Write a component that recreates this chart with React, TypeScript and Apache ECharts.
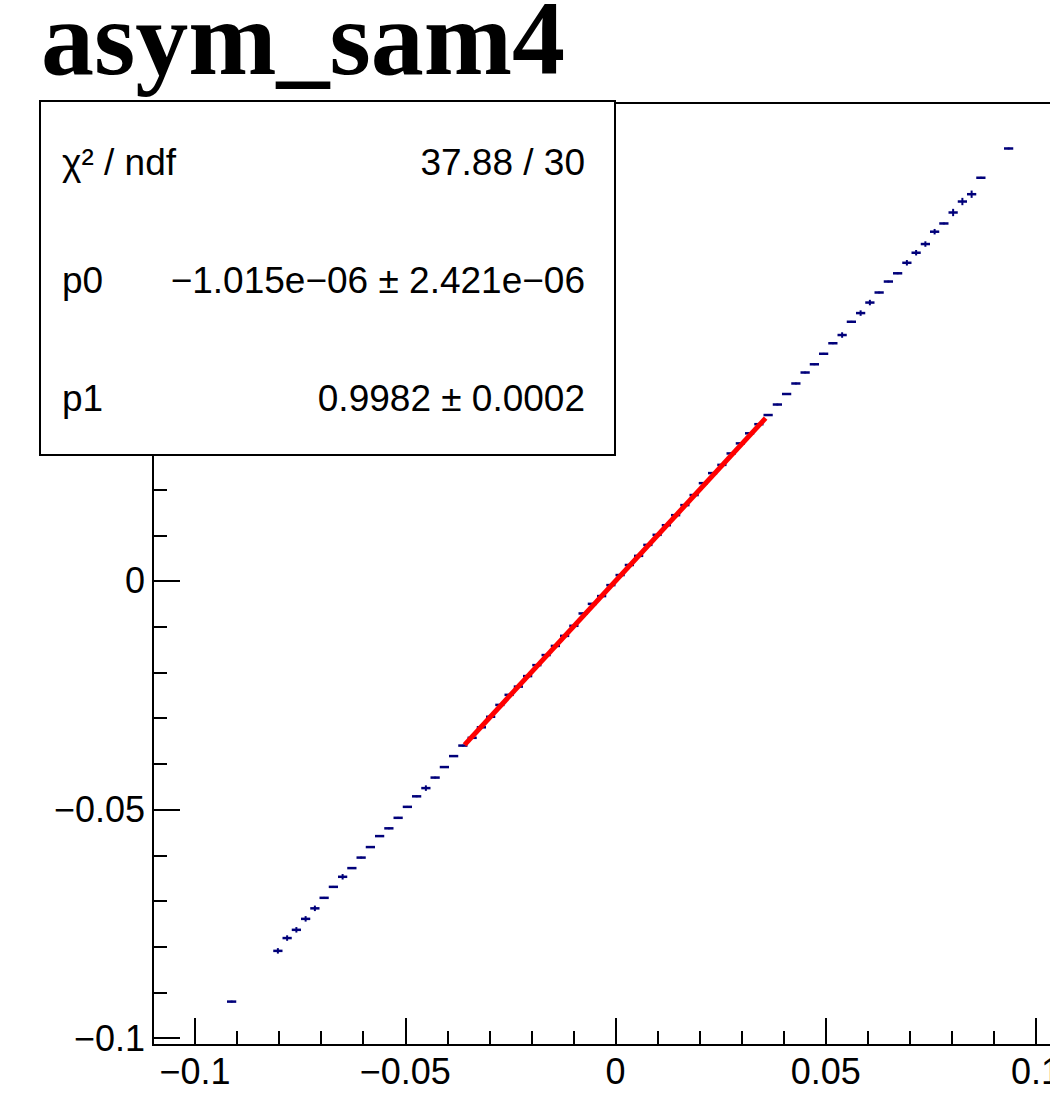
import React, { useEffect, useRef } from "react";
import * as echarts from "echarts";

// ---- data (TProfile bins) ----
const binCenters = [
  -0.0913,
  -0.0803, -0.0781, -0.0759, -0.0737, -0.0715, -0.0693, -0.0671, -0.0649, -0.0627, -0.0605,
  -0.0583, -0.0561, -0.0539, -0.0517, -0.0495, -0.0473, -0.0451, -0.0429, -0.0407, -0.0385,
  -0.0363, -0.0341, -0.0319, -0.0297, -0.0275, -0.0253, -0.0231, -0.0209, -0.0187, -0.0165,
  -0.0143, -0.0121, -0.0099, -0.0077, -0.0055, -0.0033, -0.0011, 0.0011, 0.0033, 0.0055,
  0.0077, 0.0099, 0.0121, 0.0143, 0.0165, 0.0187, 0.0209, 0.0231, 0.0253, 0.0275,
  0.0297, 0.0319, 0.0341, 0.0363, 0.0385, 0.0407, 0.0429, 0.0451, 0.0473, 0.0495,
  0.0517, 0.0539, 0.0561, 0.0583, 0.0605, 0.0627, 0.0649, 0.0671, 0.0693, 0.0715,
  0.0737, 0.0759, 0.0781, 0.0803, 0.0825, 0.0847, 0.0869,
  0.0935,
];
const binValues = [
  -0.0920,
  -0.0809, -0.0781, -0.0763, -0.0739, -0.0716, -0.0693, -0.0669, -0.0647, -0.0628, -0.0605,
  -0.0582, -0.0558, -0.0541, -0.0518, -0.0494, -0.0471, -0.0453, -0.0430, -0.0407, -0.0383,
  -0.0360, -0.0343, -0.0320, -0.0297, -0.0271, -0.0249, -0.0231, -0.0208, -0.0184, -0.0162,
  -0.0142, -0.0120, -0.0098, -0.0071, -0.0050, -0.0033, -0.0009, 0.0013, 0.0035, 0.0055,
  0.0079, 0.0101, 0.0122, 0.0144, 0.0166, 0.0188, 0.0214, 0.0236, 0.0254, 0.0279,
  0.0301, 0.0323, 0.0343, 0.0363, 0.0386, 0.0409, 0.0432, 0.0456, 0.0474, 0.0497,
  0.0520, 0.0538, 0.0567, 0.0586, 0.0609, 0.0631, 0.0655, 0.0673, 0.0696, 0.0718,
  0.0737, 0.0764, 0.0782, 0.0806, 0.0830, 0.0846, 0.0882,
  0.0946,
];
const binErrors = [
  0.0002,
  0.0006, 0.0006, 0.0006, 0.0006, 0.0006, 0.0002, 0.0002, 0.0006, 0.0002, 0.0002,
  0.0002, 0.0002, 0.0002, 0.0002, 0.0002, 0.0002, 0.0006, 0.0002, 0.0002, 0.0002,
  0.0002, 0.0002, 0.0002, 0.0002, 0.0002, 0.0002, 0.0002, 0.0002, 0.0002, 0.0002,
  0.0002, 0.0002, 0.0002, 0.0002, 0.0002, 0.0002, 0.0002, 0.0002, 0.0002, 0.0002,
  0.0002, 0.0002, 0.0002, 0.0002, 0.0002, 0.0002, 0.0002, 0.0002, 0.0002, 0.0002,
  0.0002, 0.0002, 0.0002, 0.0002, 0.0002, 0.0002, 0.0002, 0.0002, 0.0002, 0.0002,
  0.0002, 0.0006, 0.0002, 0.0006, 0.0006, 0.0002, 0.0002, 0.0002, 0.0006, 0.0006,
  0.0006, 0.0006, 0.0002, 0.0008, 0.0008, 0.0008, 0.0002,
  0.0002,
];
const binHalfWidth = 0.0011;

// fit result
const fitRange = [-0.0359, 0.0357];
const p0 = -1.015e-6;
const p1 = 0.9982;

// axes
const xRange = [-0.11, 0.11];
const yRange = [-0.10149, 0.10455];
const xMajorTicks = [-0.1, -0.05, 0, 0.05, 0.1];
const xMinorTicks = [-0.11, -0.1, -0.09, -0.08, -0.07, -0.06, -0.05, -0.04, -0.03, -0.02, -0.01, 0,
  0.01, 0.02, 0.03, 0.04, 0.05, 0.06, 0.07, 0.08, 0.09, 0.1, 0.11];
const yMajorTicks = [-0.1, -0.05, 0, 0.05, 0.1];
const yMinorTicks = [-0.1, -0.09, -0.08, -0.07, -0.06, -0.05, -0.04, -0.03, -0.02, -0.01, 0,
  0.01, 0.02, 0.03, 0.04, 0.05, 0.06, 0.07, 0.08, 0.09, 0.1];

// texts
const titleText = "asym_sam4";
const statLabels = ["\u03c7\u00b2 / ndf", "p0", "p1"];
const statValues = ["37.88 / 30", "\u22121.015e\u221206 \u00b1 2.421e\u221206", "0.9982 \u00b1 0.0002"];

const SANS = "'Liberation Sans', Arial, Helvetica, sans-serif";
const fmt = (v: number) => (v === 0 ? "0" : String(v).replace("-", "\u2212"));

export default function App() {
  const ref = useRef<HTMLDivElement>(null);
  useEffect(() => {
    if (!ref.current) return;
    const chart = echarts.init(ref.current, null, { renderer: "svg" });
    const data = binCenters.map((x, i) => [x, binValues[i], binErrors[i]]);
    const fitData = fitRange.map((x) => [x, p0 + p1 * x]);
    const axisCommon = {
      type: "value" as const,
      splitLine: { show: false },
      axisLine: { show: true, onZero: false, lineStyle: { color: "#000", width: 2 } },
    };
    chart.setOption({
      animation: false,
      backgroundColor: "#fff",
      grid: {
        left: 153,
        top: 103,
        width: 925,
        height: 942,
        show: true,
        borderColor: "#000",
        borderWidth: 2,
        backgroundColor: "transparent",
      },
      xAxis: [
        {
          ...axisCommon,
          position: "bottom",
          min: xRange[0],
          max: xRange[1],
          axisTick: { show: true, inside: true, length: 27, customValues: xMajorTicks, lineStyle: { color: "#000", width: 2 } },
          axisLabel: {
            show: true,
            customValues: xMajorTicks,
            formatter: fmt,
            color: "#000",
            fontFamily: SANS,
            fontSize: 36,
            margin: 8,
          },
        },
        {
          ...axisCommon,
          position: "bottom",
          min: xRange[0],
          max: xRange[1],
          axisTick: { show: true, inside: true, length: 14, customValues: xMinorTicks, lineStyle: { color: "#000", width: 2 } },
          axisLabel: { show: false },
        },
      ],
      yAxis: [
        {
          ...axisCommon,
          position: "left",
          min: yRange[0],
          max: yRange[1],
          axisTick: { show: true, inside: true, length: 27, customValues: yMajorTicks, lineStyle: { color: "#000", width: 2 } },
          axisLabel: {
            show: true,
            customValues: yMajorTicks,
            formatter: fmt,
            color: "#000",
            fontFamily: SANS,
            fontSize: 36,
            margin: 8,
          },
        },
        {
          ...axisCommon,
          position: "left",
          min: yRange[0],
          max: yRange[1],
          axisTick: { show: true, inside: true, length: 14, customValues: yMinorTicks, lineStyle: { color: "#000", width: 2 } },
          axisLabel: { show: false },
        },
      ],
      series: [
        {
          type: "custom",
          xAxisIndex: 0,
          yAxisIndex: 0,
          data,
          z: 3,
          renderItem: (params: any, api: any) => {
            const x = api.value(0);
            const y = api.value(1);
            const e = api.value(2);
            const a = api.coord([x - binHalfWidth, y]);
            const b = api.coord([x + binHalfWidth, y]);
            const c = api.coord([x, y - e]);
            const d = api.coord([x, y + e]);
            const style = { stroke: "#00007a", lineWidth: 2.5 };
            return {
              type: "group",
              children: [
                { type: "line", shape: { x1: a[0], y1: a[1], x2: b[0], y2: b[1] }, style },
                { type: "line", shape: { x1: c[0], y1: c[1], x2: d[0], y2: d[1] }, style: { stroke: "#00007a", lineWidth: 2 } },
              ],
            };
          },
        },
        {
          type: "line",
          xAxisIndex: 0,
          yAxisIndex: 0,
          data: fitData,
          symbol: "none",
          z: 4,
          lineStyle: { color: "#ff0000", width: 5 },
        },
      ],
      graphic: [
        {
          type: "text",
          left: 41,
          top: -15,
          z: 90,
          style: {
            x: 0,
            y: 0,
            text: titleText,
            font: "bold 106px 'Liberation Serif', 'Times New Roman', serif",
            fill: "#000",
          },
        },
        {
          type: "rect",
          z: 100,
          shape: { x: 40, y: 101, width: 575, height: 354 },
          style: { fill: "#fff", stroke: "#000", lineWidth: 2 },
        },
        ...statLabels.map((t, i) => ({
          type: "text",
          z: 101,
          x: 62,
          y: 162 + i * 118,
          style: { text: t, fill: "#000", fontFamily: SANS, fontSize: 37, verticalAlign: "middle", align: "left" },
        })),
        ...statValues.map((t, i) => ({
          type: "text",
          z: 101,
          x: 585,
          y: 162 + i * 118,
          style: { text: t, fill: "#000", fontFamily: SANS, fontSize: 37, verticalAlign: "middle", align: "right" },
        })),
      ],
    });
    return () => chart.dispose();
  }, []);
  return (
    <div style={{ position: "absolute", left: 0, top: 0, width: 1050, height: 1112, overflow: "hidden", background: "#fff" }}>
      <div ref={ref} style={{ width: 1100, height: 1112 }} />
    </div>
  );
}
